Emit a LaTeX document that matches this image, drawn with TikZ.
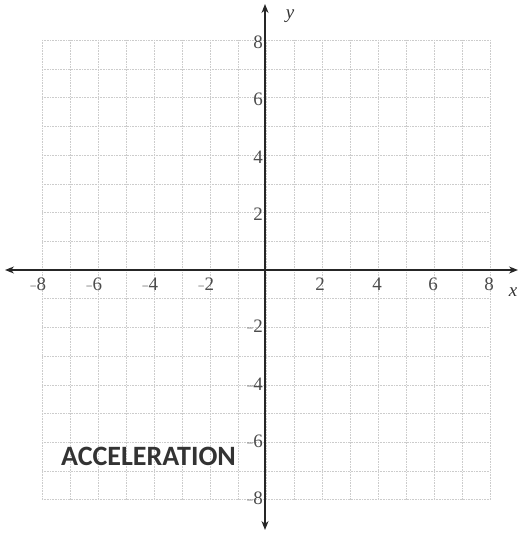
\documentclass[tikz,border=0pt]{standalone}
\usepackage{fontspec}
\setmainfont{Liberation Serif}
\newfontfamily\labelfont{Carlito}
\usetikzlibrary{arrows.meta}
\begin{document}
\begin{tikzpicture}[x=1pt,y=-1pt,
  gridline/.style={draw=black!20, densely dotted, line width=0.6pt},
  axisline/.style={draw=black!85, line width=1.3pt, {Stealth[length=9pt,width=7pt]}-{Stealth[length=9pt,width=7pt]}},
  ticklab/.style={font=\fontsize{19}{19}\selectfont, text=black!70, inner sep=1pt},
  title/.style={font=\labelfont\bfseries\fontsize{28}{28}\selectfont, text=black!80, inner sep=0pt}]
\useasboundingbox (0,0) rectangle (519,534);
% grid
\foreach \i in {-8,...,8} {
  \draw[gridline] (266+28*\i,40) -- (266+28*\i,500);
  \draw[gridline] (42,270-28.7*\i) -- (490,270-28.7*\i);
}
% axes
\coordinate (xl) at (5,270);
\coordinate (xr) at (518,270);
\coordinate (yt) at (265,4);
\coordinate (yb) at (265,530);
\draw[axisline] (xl) -- (xr);
\draw[axisline] (yb) -- (yt);
\node[font=\fontsize{19}{19}\selectfont\itshape, text=black!80] (ylab) at (290,16) {y};
\node[font=\fontsize{19}{19}\selectfont\itshape, text=black!80] (xlab) at (513,292) {x};
% x tick labels
\foreach \v/\p in {2/320,4/377,6/433,8/489} {
  \node[ticklab] (xp\v) at (\p,284) {\v};
}
\foreach \v/\p in {2/206,4/150,6/94,8/38} {
  \node[ticklab] (xn\v) at (\p,284) {{\fontsize{12}{12}\selectfont −}\v};
}
% y tick labels
\foreach \v in {2,4,6,8} {
  \node[ticklab, anchor=east] (yp\v) at (264,270-28.7*\v+2) {\v};
  \node[ticklab, anchor=east] (yn\v) at (264,270+28.7*\v-1) {{\fontsize{12}{12}\selectfont −}\v};
}
\node[title, anchor=base west] (acc) at (61,465) {ACCELERATION};
\end{tikzpicture}
\end{document}
